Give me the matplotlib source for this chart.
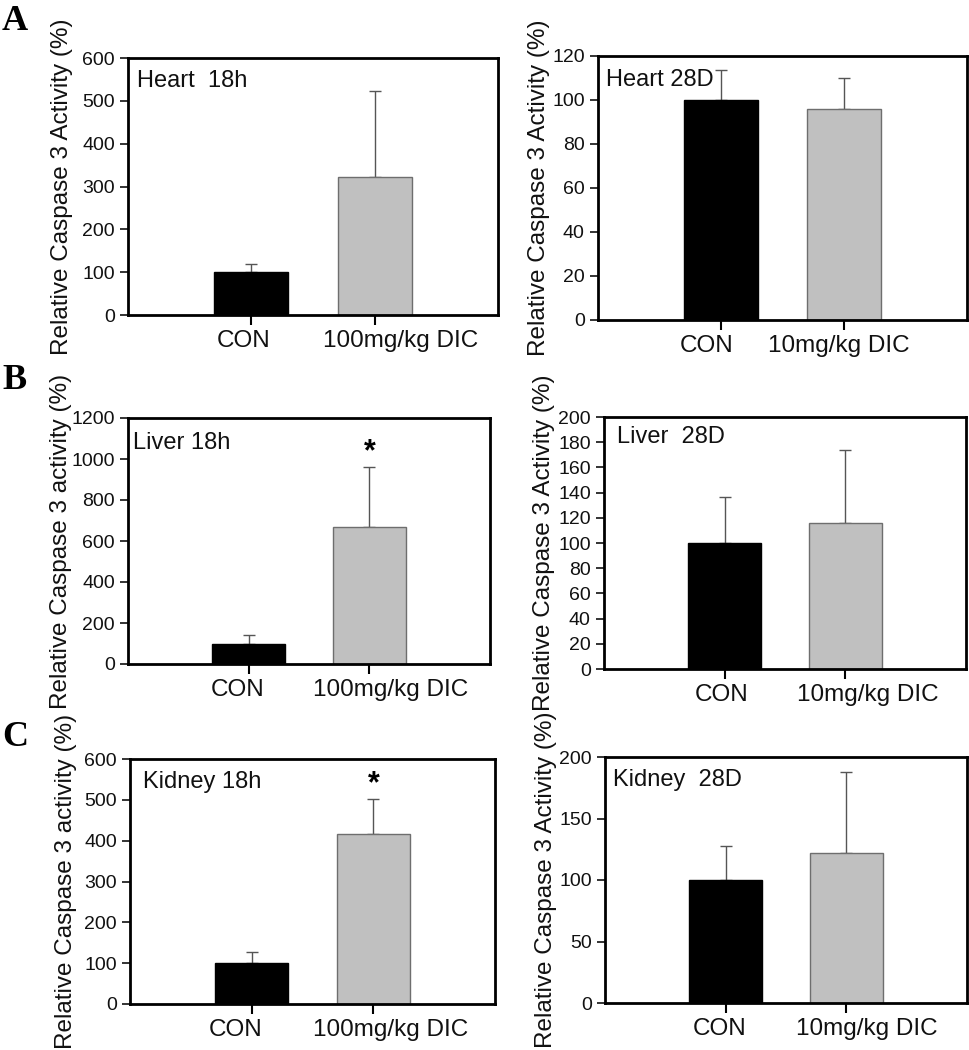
import matplotlib
matplotlib.use("Agg")
import matplotlib.pyplot as plt

# one entry per panel: A-left, A-right, B-left, B-right, C-left, C-right
panel_titles = ["Heart  18h", "Heart 28D", "Liver 18h", "Liver  28D", "Kidney 18h", "Kidney  28D"]
dose_labels = ["100mg/kg DIC", "10mg/kg DIC", "100mg/kg DIC", "10mg/kg DIC", "100mg/kg DIC", "10mg/kg DIC"]
con_mean = [100, 100, 100, 100, 100, 100]
dic_mean = [322, 96, 666, 116, 416, 122]
con_err = [20, 13.5, 43, 36.5, 28, 28]
dic_err = [200, 14, 296, 57.5, 85, 66]
y_max = [600, 120, 1200, 200, 600, 200]
y_step = [100, 20, 200, 20, 100, 50]
star = [False, False, True, False, True, False]
ylabels = ["Relative Caspase 3 Activity (%)", "Relative Caspase 3 Activity (%)",
           "Relative Caspase 3 activity (%)", "Relative Caspase 3 Activity (%)",
           "Relative Caspase 3 activity (%)", "Relative Caspase 3 Activity (%)"]
group_labels = ["CON"]

W, H = 969, 1050
# axes boxes in pixels: left, top, right, bottom
boxes = [(128, 58, 498, 315), (598, 56, 967, 320),
         (128, 418, 490, 664), (604, 417, 966, 669),
         (130, 759, 495, 1004), (605, 757, 967, 1003)]
label_dx = [55, 48, 56, 49, 53, 48]
title_pos = [(0.024, 0.91), (0.022, 0.91), (0.014, 0.90), (0.036, 0.92), (0.036, 0.906), (0.022, 0.906)]
# the original's category labels are not centred under the ticks (pixels)
xlab_shift = [(-8, 26), (-14, -5), (-11, 21), (-3, 22), (-16, 17), (-6, 20)]

plt.rcParams['font.family'] = ['Liberation Sans', 'DejaVu Sans']

fig = plt.figure(figsize=(W / 100, H / 100), dpi=100)

for i in range(6):
    l, t, r, b = boxes[i]
    ax = fig.add_axes([l / W, 1 - b / H, (r - l) / W, (b - t) / H])
    x = [1, 2]
    ax.bar(x, [con_mean[i], dic_mean[i]], width=0.6,
           color=["black", "#c0c0c0"], edgecolor=["black", "#6e6e6e"], linewidth=1, zorder=2)
    ax.errorbar(x, [con_mean[i], dic_mean[i]], yerr=[[0, 0], [con_err[i], dic_err[i]]],
                fmt="none", ecolor="#555555", elinewidth=1, capsize=4, capthick=1, zorder=1)
    ax.set_xlim(0, 3)
    ax.set_ylim(0, y_max[i])
    ax.set_yticks(range(0, y_max[i] + 1, y_step[i]))
    ax.set_xticks(x)
    ax.set_xticklabels([])
    for xi, txt, dx in zip(x, group_labels + [dose_labels[i]], xlab_shift[i]):
        ax.annotate(txt, xy=(xi, 0), xycoords=ax.get_xaxis_transform(),
                    xytext=(dx * 0.72, -15 * 0.72), textcoords="offset points",
                    ha="center", va="top", fontsize=17.5, color="#111111")
    ax.tick_params(axis="y", labelsize=14, direction="out", length=6, width=1.2, colors="#111111")
    ax.tick_params(axis="x", direction="out", length=7, width=1.5)
    for sp in ax.spines.values():
        sp.set_linewidth(2)
    ax.set_ylabel(ylabels[i], fontsize=17.5, color="#111111")
    ax.yaxis.set_label_coords(-label_dx[i] / (r - l), 0.5)
    ax.text(title_pos[i][0], title_pos[i][1], panel_titles[i], transform=ax.transAxes,
            fontsize=17, va="center", ha="left", color="#111111")
    if star[i]:
        ax.text(2, dic_mean[i] + dic_err[i] + y_max[i] * 0.06, "*", ha="center", va="center",
                fontsize=22, fontweight="bold")

for letter, ypx in [("A", 5), ("B", 364), ("C", 721)]:
    fig.text(2 / W, 1 - ypx / H, letter, fontsize=26, fontweight="bold",
             family=["Liberation Serif", "DejaVu Serif"], va="top", ha="left")

fig.savefig("out.png", dpi=100)
